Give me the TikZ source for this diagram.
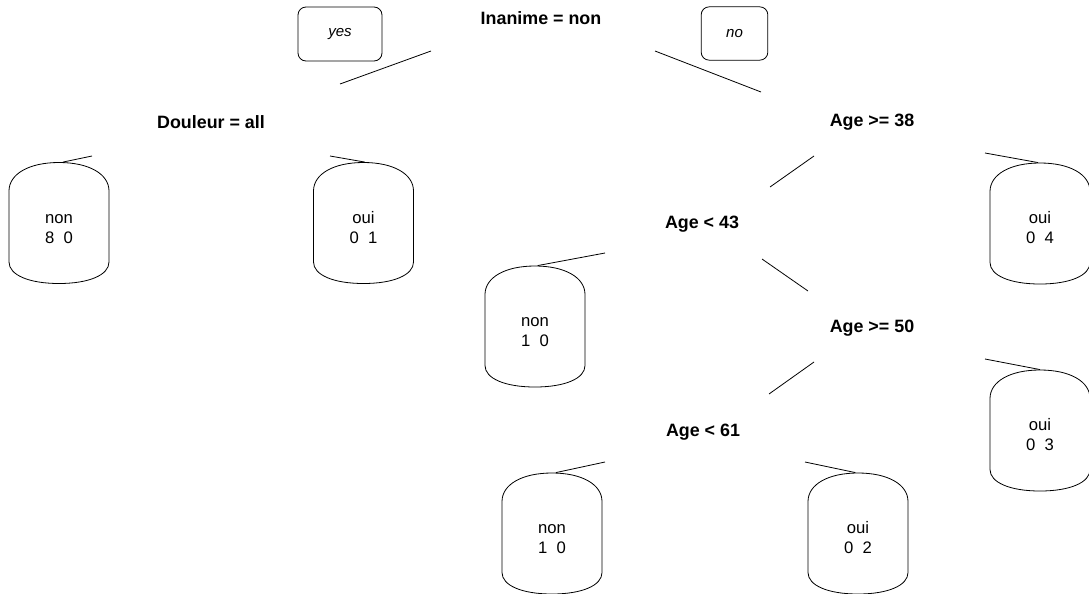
\documentclass[tikz,border=0pt]{standalone}
\usepackage{fontspec}
\setmainfont{Liberation Sans}
\newcommand{\leafoutline}[1]{%
 \draw[outline,shift={(#1.center)}] (-50,-32) .. controls (-50,-49) and (-30,-60.5) .. (0,-60.5)
  .. controls (30,-60.5) and (50,-49) .. (50,-32) -- (50,39)
  .. controls (50,52) and (30,60.5) .. (0,60.5)
  .. controls (-30,60.5) and (-50,52) .. (-50,39) -- cycle;}
\newcommand{\leaftext}[2]{\rule{0pt}{15.5pt}#1\\#2}
\begin{document}
\begin{tikzpicture}[x=0.75pt,y=-0.75pt,
  split/.style={font=\fontsize{13.4}{16}\selectfont\bfseries, inner sep=0pt},
  leafbox/.style={minimum width=75pt, minimum height=91pt, inner sep=0pt, align=center, font=\fontsize{12.5}{15}\selectfont},
  tag/.style={draw, rounded corners=6pt, inner sep=0pt, font=\fontsize{11.3}{13}\selectfont\itshape, line width=0.6pt},
  conn/.style={line width=0.6pt},
  outline/.style={line width=0.6pt}]
\useasboundingbox (0,0) rectangle (1089,593);
% split labels
\node[split] (s0) at (541,18) {Inanime = non};
\node[split] (s1) at (211,122) {Douleur = all};
\node[split] (s2) at (872,122.5) {Age >= 38};
\node[split] (s3) at (702,224.5) {Age < 43};
\node[split] (s4) at (872,328.5) {Age >= 50};
\node[split] (s5) at (703,432.5) {Age < 61};
% yes / no tags
\node[tag, minimum width=63pt, minimum height=40.5pt] (yes) at (340,34) {yes};
\node[tag, minimum width=50pt, minimum height=40pt] (no) at (734.5,33.5) {no};
% leaves
\node[leafbox] (l1) at (59,223) {\leaftext{non}{8\ \ 0}};
\node[leafbox] (l2) at (363.5,223) {\leaftext{oui}{0\ \ 1}};
\node[leafbox] (l3) at (535,326.5) {\leaftext{non}{1\ \ 0}};
\node[leafbox] (l4) at (1040,223.5) {\leaftext{oui}{0\ \ 4}};
\node[leafbox] (l5) at (1040,430.5) {\leaftext{oui}{0\ \ 3}};
\node[leafbox] (l6) at (552,533.5) {\leaftext{non}{1\ \ 0}};
\node[leafbox] (l7) at (858,533.5) {\leaftext{oui}{0\ \ 2}};
\foreach \n in {l1,l2,l3,l4,l5,l6,l7} {\leafoutline{\n}}
% connector end points
\coordinate (ya) at (431,51);
\coordinate (yb) at (340,84);
\coordinate (na) at (655,51);
\coordinate (nb) at (761,92);
\coordinate (a2) at (814,156);
\coordinate (b3) at (770,187);
\coordinate (a3) at (762,259);
\coordinate (b4) at (808,291);
\coordinate (a4) at (814,362);
\coordinate (b5) at (769,394);
\coordinate (t1) at (92,156);
\coordinate (t2) at (330,156);
\coordinate (t3) at (605,253);
\coordinate (t4) at (985,153);
\coordinate (t5) at (985,359);
\coordinate (t6) at (605,462);
\coordinate (t7) at (805,462);
% connectors
\draw[conn] (ya) -- (yb);
\draw[conn] (na) -- (nb);
\draw[conn] (a2) -- (b3);
\draw[conn] (a3) -- (b4);
\draw[conn] (a4) -- (b5);
\draw[conn] (t1) -- ([xshift=3pt]l1.north);
\draw[conn] (t2) -- ([xshift=1pt]l2.north);
\draw[conn] (t3) -- ([xshift=2pt]l3.north);
\draw[conn] (t4) -- ([xshift=-1.5pt]l4.north);
\draw[conn] (t5) -- (l5.north);
\draw[conn] (t6) -- ([xshift=3pt]l6.north);
\draw[conn] (t7) -- ([xshift=-2pt]l7.north);
\end{tikzpicture}
\end{document}
